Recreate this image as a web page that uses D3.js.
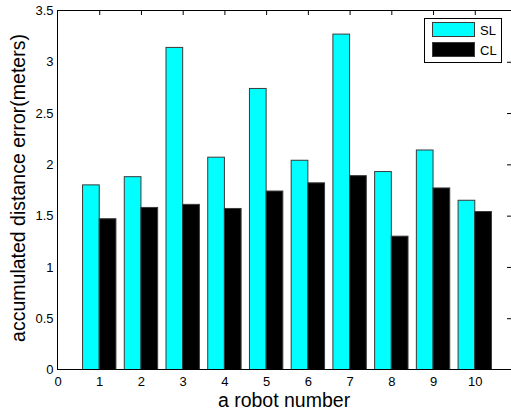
<!DOCTYPE html>
<html>
<head>
<meta charset="utf-8">
<script src="https://cdn.jsdelivr.net/npm/d3@7"></script>
<style>
  html, body { margin: 0; padding: 0; background: #fff; }
  svg { display: block; font-family: "Liberation Sans", Arial, Helvetica, sans-serif; }
</style>
</head>
<body>
<svg id="chart" width="511" height="412"></svg>
<script>
// Robot indices and the accumulated distance error for each method
const robots = [1, 2, 3, 4, 5, 6, 7, 8, 9, 10];
const slValues = [1.80, 1.88, 3.14, 2.07, 2.74, 2.04, 3.27, 1.93, 2.14, 1.65];
const clValues = [1.47, 1.58, 1.61, 1.57, 1.74, 1.82, 1.89, 1.30, 1.77, 1.54];
const seriesNames = ["SL", "CL"];
const seriesColors = ["#00ffff", "#000000"];
const xTicks = [0, 1, 2, 3, 4, 5, 6, 7, 8, 9, 10];
const yTicks = [0, 0.5, 1, 1.5, 2, 2.5, 3, 3.5];

const svg = d3.select("#chart");
const plotLeft = 57.5, plotTop = 10.5, plotBottom = 369.5, plotRight = 516.5;

const x = d3.scaleLinear().domain([0, 11]).range([plotLeft, plotRight]);
const y = d3.scaleLinear().domain([0, 3.5]).range([plotBottom, plotTop]);
const barW = 0.4; // width of each bar in data units

// bars: SL to the left of each tick, CL to the right
const series = [slValues, clValues];
series.forEach((vals, si) => {
  svg.append("g").selectAll("rect")
    .data(robots.map((r, i) => ({ r, v: vals[i] })))
    .join("rect")
    .attr("x", d => x(d.r - barW + si * barW))
    .attr("y", d => y(d.v))
    .attr("width", d => x(d.r + barW) - x(d.r))
    .attr("height", d => y(0) - y(d.v))
    .attr("fill", seriesColors[si])
    .attr("stroke", "#3a3a3a")
    .attr("stroke-width", 1);
});

// bottom axis labels
const xAxis = d3.axisBottom(x).tickValues(xTicks).tickSize(0).tickPadding(7).tickFormat(d3.format("d"));
const gx = svg.append("g").attr("transform", `translate(0,${plotBottom})`).call(xAxis);
gx.select(".domain").remove();
gx.selectAll("text").attr("font-size", 13).attr("fill", "#000").attr("font-family", "Liberation Sans, Arial, sans-serif");

// left axis labels
const yAxis = d3.axisLeft(y).tickValues(yTicks).tickSize(0).tickPadding(4).tickFormat(d3.format("~g"));
const gy = svg.append("g").attr("transform", `translate(${plotLeft},0)`).call(yAxis);
gy.select(".domain").remove();
gy.selectAll("text").attr("font-size", 13).attr("fill", "#000").attr("font-family", "Liberation Sans, Arial, sans-serif");

// top axis with inward ticks
const gt = svg.append("g").attr("transform", `translate(0,${plotTop})`)
  .call(d3.axisBottom(x).tickValues(xTicks.slice(1)).tickSize(4.5).tickFormat(""));
gt.select(".domain").remove();
gt.selectAll("line").attr("stroke", "#000");

// right axis with inward ticks
const gr = svg.append("g").attr("transform", `translate(${plotRight},0)`)
  .call(d3.axisLeft(y).tickValues(yTicks.slice(1, -1)).tickSize(9.5).tickFormat(""));
gr.select(".domain").remove();
gr.selectAll("line").attr("stroke", "#000");

// axes box
svg.append("rect")
  .attr("x", plotLeft).attr("y", plotTop)
  .attr("width", plotRight - plotLeft).attr("height", plotBottom - plotTop)
  .attr("fill", "none").attr("stroke", "#000").attr("stroke-width", 1);

// axis titles
svg.append("text")
  .attr("x", 284).attr("y", 407)
  .attr("text-anchor", "middle")
  .attr("font-size", 19.5)
  .text("a robot number");

svg.append("text")
  .attr("transform", `translate(25,188) rotate(-90)`)
  .attr("text-anchor", "middle")
  .attr("font-size", 19.5)
  .text("accumulated distance error(meters)");

// legend
const lg = svg.append("g");
lg.append("rect")
  .attr("x", 424.5).attr("y", 18.5).attr("width", 77).attr("height", 44)
  .attr("fill", "#fff").attr("stroke", "#000");
seriesNames.forEach((name, i) => {
  lg.append("rect")
    .attr("x", 432.5).attr("y", 22.5 + i * 20).attr("width", 42).attr("height", 14)
    .attr("fill", seriesColors[i]).attr("stroke", "#3a3a3a");
  lg.append("text")
    .attr("x", 480).attr("y", 35 + i * 20)
    .attr("font-size", 13)
    .text(name);
});
</script>
</body>
</html>
